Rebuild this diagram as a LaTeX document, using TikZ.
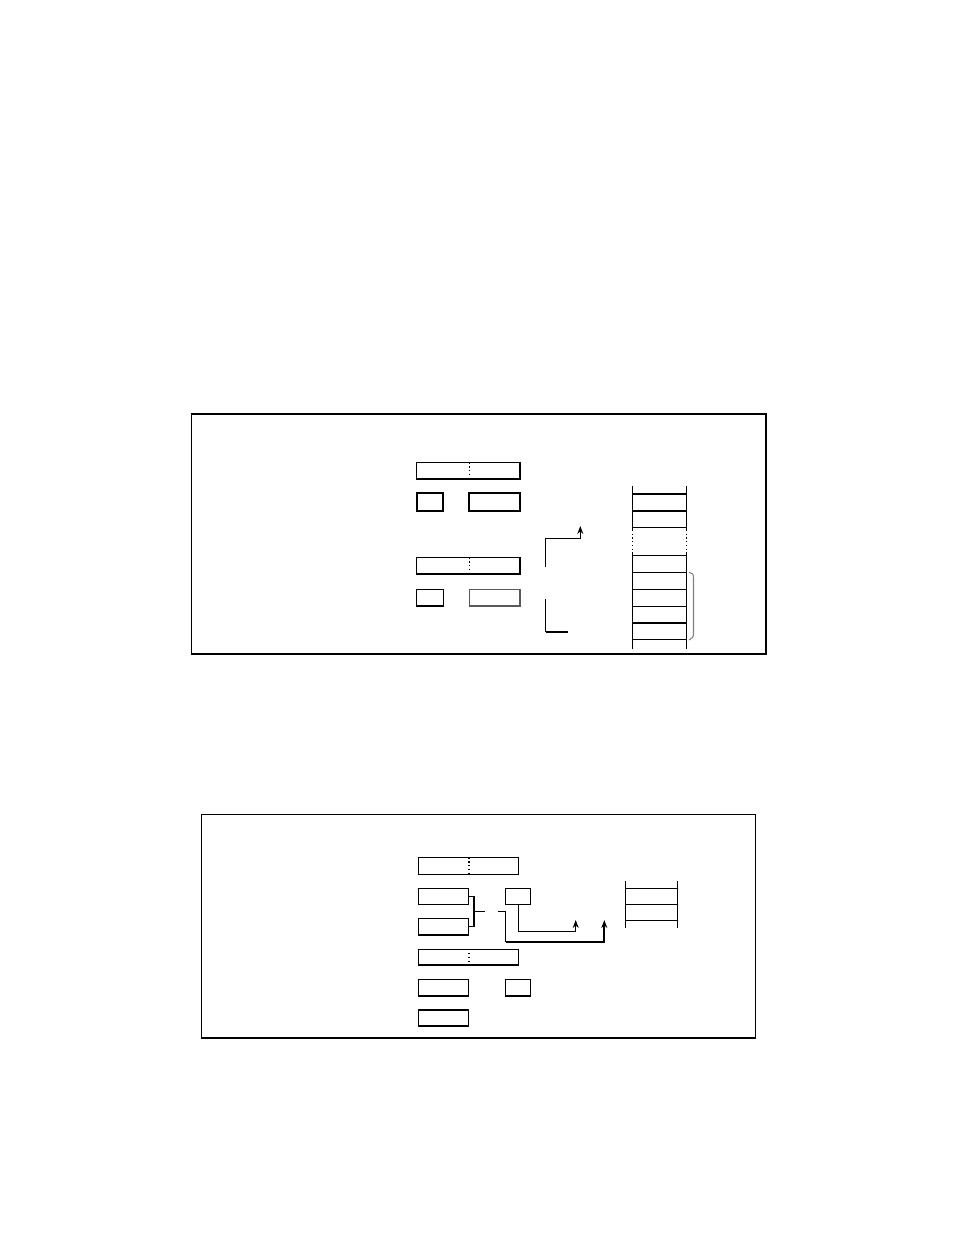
\documentclass[tikz,border=0pt]{standalone}
\usetikzlibrary{arrows.meta,fit}
\begin{document}
\begin{tikzpicture}[x=0.75pt,y=-0.75pt,
  box/.style={draw, inner sep=0pt, line width=0.8pt},
  boldbox/.style={box, line width=1.3pt},
  greybox/.style={box, draw=black!65, line width=1.2pt},
  divider/.style={dotted, line width=0.8pt},
  wire/.style={line width=0.8pt},
  heavy/.style={line width=1.6pt},
  tip/.style={-{Stealth[length=6pt,width=4.5pt]}},
  frameline/.style={line width=0.8pt},
  bold rung/.style={line width=1.5pt},
  rung/.style={line width=0.8pt}]
\useasboundingbox (0,0) rectangle (954,1235);

% ---------------- Figure 1 ----------------
\draw[frameline] (191.7,414) rectangle (766,654);
\draw[line width=1.5pt] (191.7,414) -- (766,414);
\draw[line width=1.1pt] (191.7,654) -- (766,654);

\node[box, fit={(416.7,462.7) (520,479)}] (fa) {};
\draw[divider] (469.3,462.7) -- (469.3,479);
\node[boldbox, fit={(416.7,493.3) (443.3,511)}] (fb) {};
\node[boldbox, fit={(469.3,493.3) (520,511)}] (fc) {};
\node[box, fit={(416.7,557.7) (520,574)}] (fd) {};
\draw[divider] (469.3,557.7) -- (469.3,574);
\node[box, fit={(416.7,589.3) (443.3,606)}] (fe) {};
\node[greybox, fit={(469.3,589.3) (520,606)}] (ff) {};

\coordinate (up1) at (545.7,567.3);
\coordinate (up1t) at (580.3,526);
\draw[wire,tip] (up1) -- (545.7,538.3) -- (580.3,538.3) -- (up1t);
\coordinate (lo1) at (545.7,599.3);
\coordinate (lo1c) at (545.7,631.7);
\coordinate (lo1e) at (568.3,631.7);
\draw[wire] (lo1) -- (lo1c);
\draw[heavy] (lo1c) -- (lo1e);

% stack
\foreach \x in {632.3,686.3}{
  \draw[wire] (\x,486) -- (\x,530);
  \draw[wire,dotted] (\x,530) -- (\x,552);
  \draw[wire] (\x,552) -- (\x,649);
}
\foreach \y in {494,511,622.7}{\draw[bold rung] (632.3,\y) -- (686.3,\y);}
\foreach \y in {527.7,555.3,572.3,589.7,606.3,639.3}{\draw[rung] (632.3,\y) -- (686.3,\y);}
\draw[gray, line width=0.8pt] (689,572.3) .. controls (693.5,574) .. (693.5,580) -- (693.5,632) .. controls (693.5,637) .. (689,640);

% ---------------- Figure 2 ----------------
\draw[frameline] (201.7,814.7) rectangle (755.3,1038);
\draw[line width=1.6pt] (201.7,1038) -- (755.3,1038);

\node[box, fit={(418.3,857.7) (518.3,874.3)}] (g1) {};
\draw[divider] (469,857.7) -- (469,874.3);
\node[box, fit={(418.3,888.3) (468.3,904.3)}] (g2) {};
\node[box, fit={(505.7,888.3) (530.7,904.3)}] (gg) {};
\node[box, fit={(418.3,918.3) (468.3,935)}] (g3) {};
\node[box, fit={(418.3,949.3) (518.3,965)}] (g4) {};
\draw[divider] (469,949.3) -- (469,965);
\node[box, fit={(418.3,979.3) (468.3,996)}] (g5) {};
\node[box, fit={(505.7,979.3) (530.7,996)}] (gh) {};
\node[box, fit={(418.3,1010) (468.3,1026)}] (g6) {};

\coordinate (jn) at (474,911.7);
\coordinate (jne) at (485,911.7);
\draw[wire] (g2.east) -| (jn) |- (g3.east);
\draw[wire] (jn) -- (jne);

\coordinate (s2) at (498.3,911.7);
\coordinate (s2c) at (505.7,941.7);
\coordinate (s2t) at (604.3,920);
\draw[wire] (s2) -| (s2c);
\draw[heavy,tip] (s2c) -| (s2t);

\coordinate (gt) at (575.7,920);
\draw[wire,tip] (gg.south) |- (575.7,931.3) -- (gt);

\foreach \x in {625.7,677.3}{\draw[wire] (\x,881) -- (\x,927.7);}
\foreach \y in {888.3,904.3,920.7}{\draw[rung] (625.7,\y) -- (677.3,\y);}
\end{tikzpicture}
\end{document}
